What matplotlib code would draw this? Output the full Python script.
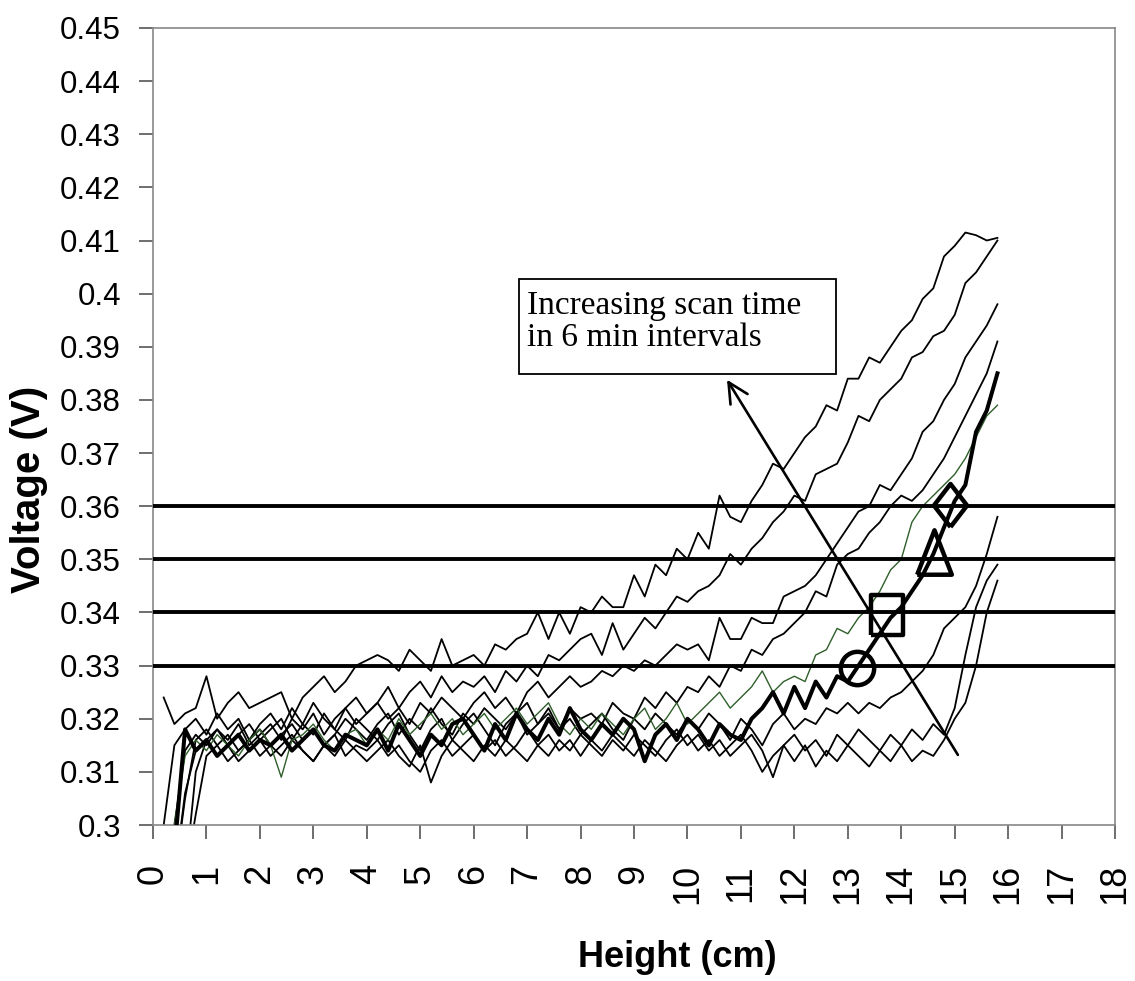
import numpy as np
import matplotlib
matplotlib.use('Agg')
import matplotlib.pyplot as plt
from matplotlib import font_manager
from matplotlib.patches import Rectangle

#============================== data (V vs height, every 0.2 cm) ==============================
height = np.round(np.arange(0.2, 15.81, 0.2), 1)

scan_a = [0.324, 0.319, 0.321, 0.322, 0.328, 0.320, 0.323, 0.325, 0.322, 0.323,
          0.324, 0.325, 0.320, 0.324, 0.326, 0.328, 0.325, 0.327, 0.330, 0.331,
          0.332, 0.331, 0.329, 0.333, 0.331, 0.329, 0.335, 0.330, 0.331, 0.332,
          0.330, 0.334, 0.333, 0.335, 0.336, 0.340, 0.335, 0.340, 0.336, 0.341,
          0.340, 0.343, 0.341, 0.341, 0.347, 0.343, 0.349, 0.347, 0.352, 0.350,
          0.355, 0.352, 0.362, 0.358, 0.357, 0.361, 0.364, 0.368, 0.367, 0.370,
          0.373, 0.375, 0.379, 0.378, 0.384, 0.384, 0.388, 0.387, 0.390, 0.393,
          0.395, 0.399, 0.401, 0.407, 0.409, 0.4115, 0.411, 0.410, 0.4105]
scan_b = [0.300, 0.315, 0.318, 0.320, 0.317, 0.321, 0.318, 0.320, 0.316, 0.319,
          0.321, 0.318, 0.322, 0.319, 0.323, 0.320, 0.318, 0.322, 0.324, 0.321,
          0.323, 0.326, 0.322, 0.325, 0.327, 0.324, 0.328, 0.325, 0.327, 0.326,
          0.328, 0.325, 0.329, 0.327, 0.330, 0.328, 0.332, 0.331, 0.333, 0.335,
          0.336, 0.332, 0.338, 0.333, 0.336, 0.339, 0.337, 0.340, 0.343, 0.342,
          0.344, 0.345, 0.347, 0.351, 0.349, 0.352, 0.354, 0.357, 0.359, 0.362,
          0.361, 0.366, 0.367, 0.368, 0.372, 0.377, 0.376, 0.380, 0.382, 0.384,
          0.388, 0.389, 0.392, 0.393, 0.396, 0.402, 0.404, 0.407, 0.410]
scan_c = [0.290, 0.300, 0.314, 0.317, 0.315, 0.318, 0.316, 0.319, 0.315, 0.317,
          0.319, 0.316, 0.320, 0.318, 0.321, 0.317, 0.320, 0.322, 0.319, 0.321,
          0.323, 0.320, 0.322, 0.319, 0.323, 0.321, 0.324, 0.322, 0.320, 0.323,
          0.325, 0.322, 0.324, 0.321, 0.325, 0.327, 0.324, 0.326, 0.328, 0.326,
          0.327, 0.329, 0.328, 0.330, 0.329, 0.331, 0.330, 0.332, 0.334, 0.333,
          0.334, 0.331, 0.339, 0.335, 0.335, 0.339, 0.338, 0.338, 0.343, 0.344,
          0.345, 0.347, 0.350, 0.353, 0.356, 0.359, 0.360, 0.364, 0.363, 0.366,
          0.369, 0.374, 0.376, 0.380, 0.383, 0.388, 0.391, 0.394, 0.398]
scan_d = [0.290, 0.290, 0.305, 0.316, 0.318, 0.315, 0.317, 0.314, 0.316, 0.318,
          0.315, 0.317, 0.319, 0.316, 0.318, 0.315, 0.317, 0.320, 0.318, 0.316,
          0.319, 0.321, 0.317, 0.320, 0.318, 0.322, 0.319, 0.317, 0.321, 0.319,
          0.322, 0.320, 0.318, 0.321, 0.323, 0.319, 0.321, 0.318, 0.322, 0.320,
          0.321, 0.319, 0.323, 0.321, 0.320, 0.324, 0.322, 0.325, 0.323, 0.326,
          0.325, 0.328, 0.326, 0.330, 0.329, 0.333, 0.332, 0.335, 0.336, 0.338,
          0.340, 0.344, 0.343, 0.349, 0.351, 0.352, 0.355, 0.357, 0.360, 0.362,
          0.361, 0.363, 0.366, 0.369, 0.373, 0.377, 0.381, 0.385, 0.391]
scan_green = [0.290, 0.300, 0.313, 0.316, 0.314, 0.317, 0.315, 0.313, 0.316, 0.318,
              0.315, 0.309, 0.316, 0.317, 0.319, 0.316, 0.314, 0.317, 0.318, 0.315,
              0.318, 0.316, 0.320, 0.317, 0.319, 0.321, 0.318, 0.320, 0.317, 0.319,
              0.321, 0.318, 0.320, 0.322, 0.319, 0.321, 0.323, 0.319, 0.317, 0.320,
              0.318, 0.321, 0.319, 0.317, 0.320, 0.322, 0.318, 0.320, 0.323, 0.319,
              0.321, 0.323, 0.325, 0.322, 0.324, 0.326, 0.329, 0.325, 0.327, 0.328,
              0.327, 0.332, 0.333, 0.337, 0.336, 0.339, 0.341, 0.344, 0.348, 0.350,
              0.357, 0.360, 0.362, 0.364, 0.366, 0.369, 0.373, 0.377, 0.379]
scan_thick = [0.290, 0.295, 0.318, 0.314, 0.316, 0.313, 0.315, 0.317, 0.314, 0.316,
              0.315, 0.317, 0.314, 0.316, 0.318, 0.315, 0.314, 0.317, 0.316, 0.315,
              0.318, 0.314, 0.319, 0.316, 0.313, 0.317, 0.315, 0.319, 0.320, 0.317,
              0.314, 0.319, 0.316, 0.321, 0.318, 0.316, 0.320, 0.317, 0.322, 0.318,
              0.316, 0.319, 0.317, 0.320, 0.318, 0.312, 0.317, 0.319, 0.316, 0.320,
              0.318, 0.315, 0.319, 0.317, 0.316, 0.320, 0.322, 0.325, 0.321, 0.326,
              0.322, 0.327, 0.324, 0.328, 0.327, 0.330, 0.333, 0.336, 0.339, 0.341,
              0.344, 0.347, 0.351, 0.356, 0.361, 0.364, 0.374, 0.378, 0.385]
scan_e = [0.290, 0.290, 0.290, 0.310, 0.316, 0.318, 0.315, 0.317, 0.319, 0.316,
          0.318, 0.320, 0.316, 0.319, 0.317, 0.321, 0.318, 0.316, 0.320, 0.318,
          0.316, 0.319, 0.321, 0.317, 0.314, 0.318, 0.320, 0.316, 0.319, 0.321,
          0.318, 0.315, 0.319, 0.321, 0.317, 0.319, 0.322, 0.318, 0.320, 0.317,
          0.319, 0.321, 0.318, 0.316, 0.320, 0.318, 0.321, 0.319, 0.317, 0.320,
          0.318, 0.321, 0.319, 0.316, 0.320, 0.318, 0.315, 0.319, 0.321, 0.318,
          0.320, 0.319, 0.322, 0.321, 0.323, 0.321, 0.323, 0.322, 0.324, 0.325,
          0.327, 0.329, 0.332, 0.337, 0.339, 0.341, 0.345, 0.351, 0.358]
scan_f = [0.290, 0.290, 0.306, 0.314, 0.316, 0.313, 0.315, 0.312, 0.314, 0.316,
          0.313, 0.315, 0.317, 0.314, 0.312, 0.315, 0.317, 0.313, 0.315, 0.314,
          0.316, 0.313, 0.315, 0.312, 0.310, 0.314, 0.316, 0.313, 0.315, 0.317,
          0.314, 0.316, 0.313, 0.315, 0.318, 0.315, 0.313, 0.316, 0.314, 0.317,
          0.315, 0.313, 0.316, 0.314, 0.317, 0.315, 0.313, 0.316, 0.318, 0.315,
          0.317, 0.314, 0.316, 0.313, 0.315, 0.317, 0.314, 0.309, 0.315, 0.317,
          0.314, 0.316, 0.313, 0.317, 0.315, 0.318, 0.316, 0.314, 0.317, 0.315,
          0.318, 0.316, 0.319, 0.317, 0.322, 0.332, 0.341, 0.346, 0.349]
scan_h = [0.290, 0.290, 0.290, 0.302, 0.313, 0.315, 0.312, 0.314, 0.316, 0.313,
          0.315, 0.313, 0.316, 0.314, 0.312, 0.315, 0.313, 0.316, 0.314, 0.312,
          0.314, 0.316, 0.313, 0.311, 0.315, 0.308, 0.313, 0.316, 0.314, 0.312,
          0.315, 0.313, 0.316, 0.314, 0.312, 0.315, 0.317, 0.314, 0.316, 0.313,
          0.316, 0.314, 0.317, 0.315, 0.313, 0.316, 0.314, 0.312, 0.315, 0.317,
          0.314, 0.316, 0.313, 0.315, 0.317, 0.314, 0.310, 0.313, 0.315, 0.312,
          0.315, 0.311, 0.314, 0.312, 0.315, 0.313, 0.311, 0.314, 0.312, 0.315,
          0.312, 0.314, 0.313, 0.316, 0.320, 0.323, 0.330, 0.340, 0.346]

thin_scans = [scan_a, scan_b, scan_c, scan_d, scan_e, scan_f, scan_h]

# threshold voltages and where the thick scan crosses them
thresholds = [0.33, 0.34, 0.35, 0.36]
cross_x = [13.17, 13.74, 14.62, 14.91]
cross_y = [0.3295, 0.3395, 0.3514, 0.3602]

x_ticks = list(range(0, 19))
y_ticks = [0.30, 0.31, 0.32, 0.33, 0.34, 0.35, 0.36, 0.37, 0.38, 0.39, 0.40,
           0.41, 0.42, 0.43, 0.44, 0.45]
y_labels = ['0.3', '0.31', '0.32', '0.33', '0.34', '0.35', '0.36', '0.37', '0.38',
            '0.39', '0.4', '0.41', '0.42', '0.43', '0.44', '0.45']

#==================================================== fonts ====================================================
# the scan is squeezed sideways, a narrow face fits it best if there is one
names = {f.name for f in font_manager.fontManager.ttflist}
if 'Liberation Sans Narrow' in names:
    narrow = ['Liberation Sans Narrow', 'DejaVu Sans']
    tick_size, xlabel_size = 26, 30
else:
    narrow = ['Liberation Sans', 'DejaVu Sans']
    tick_size, xlabel_size = 22.5, 26
plt.rcParams['font.family'] = narrow

#==================================================== figure ===================================================
fig = plt.figure(figsize=(11.35, 9.81), dpi=100)
ax = fig.add_axes([0.1348, 0.1590, 0.8476, 0.8125])

for s in thin_scans:
    ax.plot(height, s, color='black', lw=1.3, zorder=2)
ax.plot(height, scan_green, color='#2f5f2a', lw=1.0, zorder=3)
ax.plot(height, scan_thick, color='black', lw=2.9, zorder=4)

for t in thresholds:
    ax.axhline(t, color='black', lw=2.8, zorder=5)

# marker shapes (the scan is stretched vertically, so shapes are taller than wide)
sq = [(-0.8, -1), (0.8, -1), (0.8, 1), (-0.8, 1), (-0.8, -1)]
tri = [(-0.78, -1), (0.78, -1), (0, 1), (-0.78, -1)]
dia = [(0, -1), (0.77, 0), (0, 1), (-0.77, 0), (0, -1)]
shapes = [('o', 24), (sq, 29), (tri, 32), (dia, 31)]
for (m, ms), cx, cy in zip(shapes, cross_x, cross_y):
    ax.plot([cx], [cy], marker=m, ms=ms, mfc='none', mec='black', mew=3.2,
            ls='none', zorder=6)

# arrow + text box
ax.annotate('', xy=(10.74, 0.3838), xytext=(15.06, 0.3132),
            arrowprops=dict(arrowstyle='->', color='black', lw=1.9,
                            mutation_scale=36, shrinkA=0, shrinkB=0), zorder=7)
ax.add_patch(Rectangle((6.85, 0.3849), 5.93, 0.0179, fill=True, fc='white',
                       ec='black', lw=1.3, zorder=8))
ax.text(7.0, 0.3947, 'Increasing scan time\nin 6 min intervals', ha='left', va='center',
        family=['Liberation Serif', 'DejaVu Serif'], fontsize=24, linespacing=1.1, zorder=9)

ax.set_xlim(0, 18)
ax.set_ylim(0.3, 0.45)
ax.set_xticks(x_ticks)
ax.set_xticklabels([str(v) for v in x_ticks], rotation=90,
                   family=['Liberation Sans', 'DejaVu Sans'], fontsize=26)
ax.set_yticks(y_ticks)
ax.set_yticklabels(y_labels, fontsize=tick_size)
ax.tick_params(axis='both', direction='out', length=10, width=1.2, color='#555555')
ax.tick_params(axis='x', pad=18)
ax.tick_params(axis='y', pad=13)
for sp in ax.spines.values():
    sp.set_color('#888888')
    sp.set_linewidth(1.2)

fig.text(0.0256, 1 - 489 / 981, 'Voltage (V)', rotation=90, ha='center', va='center',
         fontweight='bold', family=['Liberation Sans', 'DejaVu Sans'], fontsize=29)
fig.text(677 / 1135, 14 / 981, 'Height (cm)', ha='center', va='baseline',
         fontweight='bold', fontsize=xlabel_size)

fig.savefig('out.png', dpi=100)
